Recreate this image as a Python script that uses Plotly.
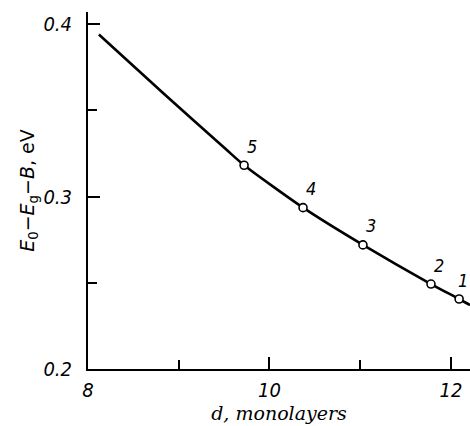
import plotly.graph_objects as go

# Data
point_labels = ["1", "2", "3", "4", "5"]
point_d = [12.09, 11.78, 11.03, 10.37, 9.72]
point_e = [0.2406, 0.2493, 0.272, 0.2936, 0.3182]

curve_d = [8.12, 8.83, 9.53, 9.72, 10.37, 11.03, 11.78, 12.09, 12.21]
curve_e = [0.394, 0.360, 0.327, 0.3182, 0.2936, 0.272, 0.2493, 0.2406, 0.2371]

x_ticks = [8, 10, 12]
x_ticktext = ["8", "10", "12"]
y_ticks = [0.2, 0.3, 0.4]
y_ticktext = ["0.2", "0.3", "0.4"]

label_font = "DejaVu Sans Condensed, DejaVu Sans, Liberation Sans Narrow, sans-serif"

fig = go.Figure()
fig.add_trace(go.Scatter(
    x=curve_d, y=curve_e, mode="lines",
    line=dict(color="black", width=2.6, shape="spline", smoothing=0.6),
    hoverinfo="skip", showlegend=False,
))
fig.add_trace(go.Scatter(
    x=point_d, y=point_e, mode="markers",
    marker=dict(symbol="circle", size=8, color="white",
                line=dict(color="black", width=1.6)),
    showlegend=False,
))

for i, (lab, xd, ye) in enumerate(zip(point_labels, point_d, point_e)):
    fig.add_annotation(
        x=xd, y=ye, text=lab, showarrow=False,
        xshift=4 if i == 0 else 8, yshift=19,
        font=dict(family=label_font, size=18, color="black", style="italic"),
    )

fig.update_layout(
    width=470, height=426,
    margin=dict(l=88, r=0, t=12, b=57),
    paper_bgcolor="white", plot_bgcolor="white",
    xaxis=dict(
        range=[8, 12.21], showgrid=False, zeroline=False,
        showline=True, linecolor="black", linewidth=2,
        tickmode="array", tickvals=x_ticks, ticktext=x_ticktext,
        ticks="inside", ticklen=12, tickwidth=1.5, tickcolor="black",
        minor=dict(dtick=1, tick0=8, ticks="inside", ticklen=9,
                   tickwidth=1.5, tickcolor="black", showgrid=False),
        tickfont=dict(family=label_font, size=20, color="black", style="italic"),
        ticklabelstandoff=2,
        title=dict(text="d, monolayers",
                   font=dict(family="DejaVu Serif, serif", size=19,
                             color="black", style="italic"),
                   standoff=4),
    ),
    yaxis=dict(
        range=[0.2, 0.4071], showgrid=False, zeroline=False,
        showline=True, linecolor="black", linewidth=2,
        tickmode="array", tickvals=y_ticks, ticktext=y_ticktext,
        ticks="inside", ticklen=12, tickwidth=1.5, tickcolor="black",
        minor=dict(dtick=0.05, tick0=0.2, ticks="inside", ticklen=9,
                   tickwidth=1.5, tickcolor="black", showgrid=False),
        tickfont=dict(family=label_font, size=20, color="black", style="italic"),
        ticklabelstandoff=10,
        title=dict(text="<i>E</i><sub>0</sub>−<i>E</i><sub>g</sub>−<i>B</i>, eV",
                   font=dict(family="DejaVu Sans, sans-serif", size=19, color="black"),
                   standoff=4),
    ),
)

fig.write_html("out.html")
